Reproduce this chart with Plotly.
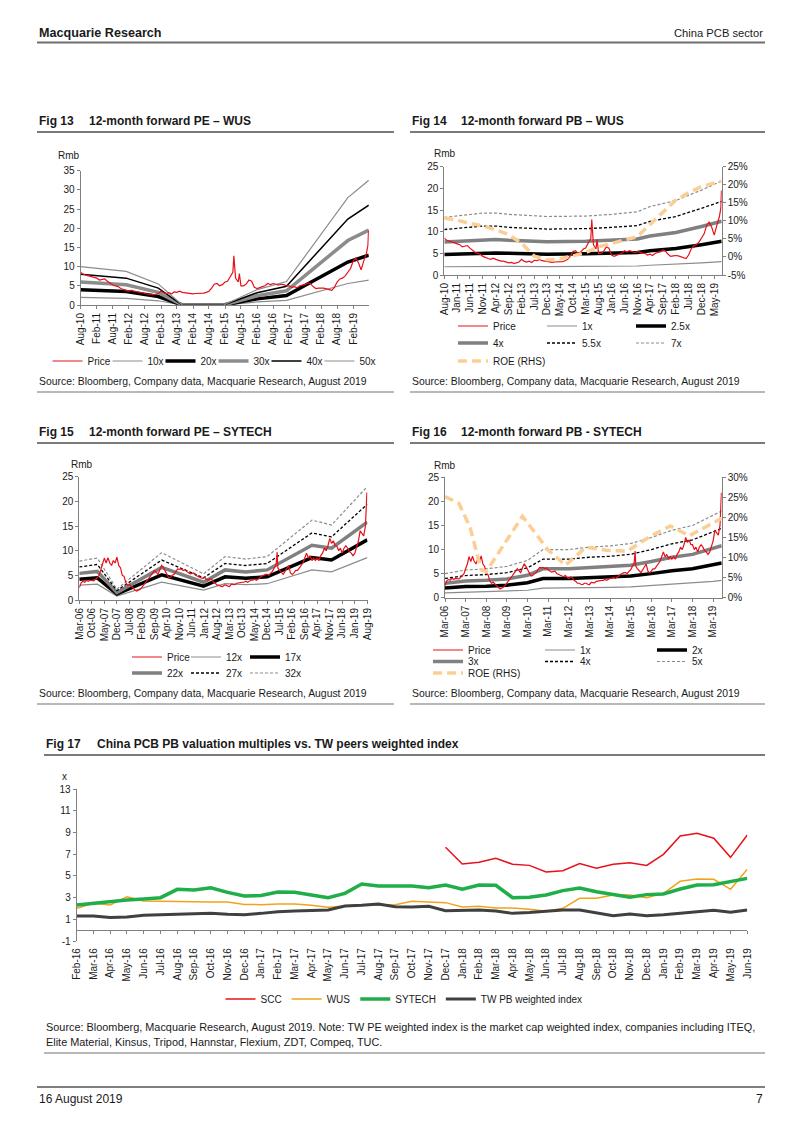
import plotly.graph_objects as go
import pandas as pd

FONT = "Liberation Sans, Arial, Helvetica, sans-serif"
TXT = "#1a1a1a"
AX = "#808080"
RED = "#e8101a"
GRAY = "#8c8c8c"
ROEC = "#fbcf94"
W, H = 802, 1133

# ------------------------------------------------------------------ data
# WUS share price (Rmb), monthly Aug-10 .. Jul-19, plus a few intra-month spikes
wus_price_start = "2010-08-01"
wus_price_monthly = [
    8.5, 8.0, 7.8, 7.5, 7.4,
    7.2, 7.0, 6.5, 6.6, 6.8, 6.2, 5.6, 5.2, 5.0, 4.8, 4.3, 4.0,
    3.8, 3.6, 3.9, 3.6, 3.4, 3.2, 3.2, 3.0, 2.8, 2.9, 2.7, 2.8,
    3.0, 3.6, 3.2, 3.0, 3.2, 2.9, 3.4, 3.3, 3.6, 3.3, 3.2, 3.0,
    3.0, 2.9, 3.0, 3.0, 3.1, 3.1, 3.3, 3.6, 4.4, 5.4, 5.6, 5.0,
    5.3, 6.0, 6.2, 7.5, 8.5, 7.0, 6.0, 5.0, 5.0, 5.5, 6.5, 6.2,
    4.6, 4.3, 4.6, 4.8, 5.0, 5.6, 5.3, 5.6, 5.4, 5.2, 5.4, 5.3,
    5.0, 5.0, 4.6, 4.8, 4.5, 5.0, 5.2, 5.3, 5.8, 5.5, 4.8, 4.3,
    4.4, 4.5, 4.4, 4.2, 4.0, 3.8, 4.6, 6.0, 6.8, 7.0, 7.6, 8.4,
    9.5, 11.5, 12.2, 11.0, 9.2, 11.5, 13.5,
]
wus_price_extra_dates = ["2015-05-12", "2015-07-14", "2019-07-18", "2019-07-25"]
wus_price_extra_vals = [12.8, 8.2, 15.5, 19.5]

# Fig 13: WUS PE bands (Rmb)
wus_pe_dates = ["2010-08-01", "2012-01-01", "2013-01-01", "2013-10-01", "2015-01-15",
                "2016-02-01", "2017-01-01", "2018-12-01", "2019-07-28"]
wus_pe_10x = [2.0, 1.75, 1.1, 0.0, 0.0, 0.8, 1.2, 5.6, 6.5]
wus_pe_20x = [4.0, 3.5, 2.2, 0.0, 0.0, 1.6, 2.45, 11.2, 13.0]
wus_pe_30x = [6.0, 5.25, 3.3, 0.0, 0.0, 2.4, 3.7, 16.8, 19.5]
wus_pe_40x = [8.0, 7.0, 4.4, 0.0, 0.0, 3.2, 4.9, 22.4, 26.0]
wus_pe_50x = [10.0, 8.75, 5.5, 0.0, 0.0, 4.0, 6.1, 28.0, 32.5]

# Fig 14: WUS PB bands (Rmb) and ROE (%)
wus_pb_dates = ["2010-08-01", "2011-11-01", "2012-04-01", "2012-09-01", "2013-12-01", "2015-03-01",
                "2016-01-01", "2016-11-01", "2017-04-01", "2018-02-01", "2018-12-01", "2019-07-28"]
wus_pb_1x = [1.9, 2.05, 2.05, 2.0, 1.93, 1.95, 2.0, 2.08, 2.25, 2.45, 2.8, 3.1]
wus_pb_2_5x = [4.75, 5.1, 5.1, 5.0, 4.8, 4.9, 5.0, 5.2, 5.6, 6.1, 7.0, 7.8]
wus_pb_4x = [7.6, 8.2, 8.2, 8.0, 7.7, 7.8, 8.0, 8.3, 9.0, 9.8, 11.2, 12.4]
wus_pb_5_5x = [10.5, 11.3, 11.3, 11.0, 10.6, 10.7, 11.0, 11.4, 12.4, 13.5, 15.4, 17.0]
wus_pb_7x = [13.3, 14.3, 14.3, 14.0, 13.5, 13.6, 14.0, 14.6, 15.8, 17.2, 19.6, 21.7]
wus_roe_dates = ["2010-08-01", "2011-01-01", "2011-06-01", "2011-11-01", "2012-04-01", "2012-09-01",
                 "2013-02-01", "2013-07-01", "2013-12-01", "2014-05-01", "2014-10-01", "2015-03-01",
                 "2015-08-01", "2016-01-01", "2016-06-01", "2016-11-01", "2017-04-01", "2017-09-01",
                 "2018-02-01", "2018-07-01", "2018-12-01", "2019-05-01", "2019-07-28"]
wus_roe = [10.8, 10.2, 9.3, 8.6, 7.5, 6.2, 3.8, 0.2, -0.8, -0.5, 0.3, 1.2,
           2.8, 3.8, 4.8, 5.6, 9.0, 12.5, 15.8, 17.8, 19.5, 20.5, 21.0]

# SYTECH share price (Rmb), monthly Mar-06 .. Jul-19, plus spikes
sy_price_start = "2006-03-01"
sy_price_monthly = [
    2.5, 3.5, 3.8, 3.6, 4.0, 3.8, 4.0, 4.0, 3.9, 4.2,
    4.5, 5.0, 6.0, 7.0, 8.5, 7.5, 8.6, 7.5, 7.0, 8.0, 7.5, 8.7,
    7.0, 6.5, 5.0, 4.8, 3.5, 3.0, 3.2, 2.8, 2.5, 2.0, 1.8, 2.0,
    2.2, 2.6, 3.0, 3.5, 4.0, 4.5, 5.0, 5.5, 6.0, 5.6, 5.2, 6.2,
    7.0, 6.5, 6.0, 5.2, 4.5, 4.6, 5.0, 5.2, 5.8, 6.3, 6.2, 6.3,
    6.0, 6.2, 5.8, 5.5, 5.3, 5.4, 5.5, 5.0, 4.8, 4.7, 4.5, 4.4,
    4.6, 4.2, 4.0, 4.3, 4.2, 3.6, 3.4, 3.0, 3.0, 2.8, 2.7, 3.0,
    3.0, 2.8, 2.7, 3.2, 3.2, 3.1, 3.4, 3.5, 3.6, 3.6, 3.6, 3.8,
    3.6, 3.8, 4.0, 4.0, 4.2, 4.0, 4.2, 4.5, 4.8, 5.0, 5.2, 5.2,
    5.0, 5.5, 5.8, 6.5, 7.0, 6.5, 6.0, 5.5, 5.2, 5.8, 6.5, 7.0,
    5.5, 5.2, 5.5, 6.0, 6.0, 6.5, 7.0, 7.5, 8.5, 9.5, 8.5, 9.0,
    8.0, 8.5, 8.0, 8.5, 8.0, 9.0, 9.5, 10.5, 10.0, 11.0, 12.5, 11.5,
    12.0, 11.0, 11.0, 10.0, 10.5, 9.5, 10.5, 11.0, 10.5, 9.8, 9.5, 9.0,
    9.5, 11.0, 11.8, 14.0, 13.5, 13.0, 15.0,
]
sy_price_extra_dates = ["2015-05-20", "2019-07-26"]
sy_price_extra_vals = [9.7, 21.8]

# Fig 15: SYTECH PE bands (Rmb)
sy_pe_dates = ["2006-03-01", "2007-01-01", "2007-12-01", "2010-01-01", "2011-12-15", "2012-12-15",
               "2013-12-01", "2014-12-01", "2017-01-01", "2017-12-01", "2019-08-01"]
sy_pe_12x = [3.0, 3.2, 0.8, 3.6, 2.0, 3.3, 3.1, 3.3, 6.1, 5.7, 8.6]
sy_pe_17x = [4.2, 4.5, 1.2, 5.1, 2.8, 4.7, 4.4, 4.7, 8.6, 8.1, 12.2]
sy_pe_22x = [5.4, 5.8, 1.5, 6.6, 3.6, 6.1, 5.7, 6.1, 11.1, 10.5, 15.8]
sy_pe_27x = [6.7, 7.2, 1.9, 8.1, 4.5, 7.4, 7.0, 7.4, 13.6, 12.8, 19.4]
sy_pe_32x = [7.9, 8.5, 2.2, 9.6, 5.3, 8.8, 8.3, 8.8, 16.2, 15.2, 23.0]

# Fig 16: SYTECH PB bands (Rmb) and ROE (%)
sy_pb_dates = ["2006-03-01", "2007-03-01", "2008-03-01", "2009-03-01", "2010-03-01", "2010-12-01",
               "2012-03-01", "2013-03-01", "2014-03-01", "2015-03-01", "2016-03-01", "2017-03-01",
               "2018-03-01", "2019-03-01", "2019-07-31"]
sy_pb_1x = [1.0, 1.15, 1.2, 1.3, 1.55, 2.0, 2.0, 2.1, 2.15, 2.25, 2.5, 2.8, 3.0, 3.4, 3.6]
sy_pb_2x = [2.0, 2.3, 2.4, 2.6, 3.1, 4.0, 4.0, 4.2, 4.3, 4.5, 5.0, 5.6, 6.0, 6.8, 7.2]
sy_pb_3x = [3.0, 3.45, 3.6, 3.9, 4.65, 6.0, 6.0, 6.3, 6.45, 6.75, 7.5, 8.4, 9.0, 10.2, 10.8]
sy_pb_4x = [4.0, 4.6, 4.8, 5.2, 6.2, 8.0, 8.0, 8.4, 8.6, 9.0, 10.0, 11.2, 12.0, 13.6, 14.4]
sy_pb_5x = [5.0, 5.75, 6.0, 6.5, 7.75, 10.0, 10.0, 10.5, 10.75, 11.25, 12.5, 14.0, 15.0, 17.0, 18.0]
sy_roe_dates = ["2006-03-01", "2006-11-01", "2007-05-15", "2007-12-01", "2008-03-01", "2009-12-01",
                "2011-03-01", "2012-01-01", "2013-01-01", "2014-01-01", "2015-01-01", "2016-02-01",
                "2017-02-01", "2018-01-01", "2019-07-31"]
sy_roe = [25.2, 23.5, 17.7, 7.0, 6.5, 20.3, 11.9, 8.1, 12.6, 11.8, 11.6, 15.2, 17.9, 15.4, 19.8]

# Fig 17: PB multiples (x)
f17_months = ["Feb-16", "Mar-16", "Apr-16", "May-16", "Jun-16", "Jul-16", "Aug-16", "Sep-16", "Oct-16",
              "Nov-16", "Dec-16", "Jan-17", "Feb-17", "Mar-17", "Apr-17", "May-17", "Jun-17", "Jul-17",
              "Aug-17", "Sep-17", "Oct-17", "Nov-17", "Dec-17", "Jan-18", "Feb-18", "Mar-18", "Apr-18",
              "May-18", "Jun-18", "Jul-18", "Aug-18", "Sep-18", "Oct-18", "Nov-18", "Dec-18", "Jan-19",
              "Feb-19", "Mar-19", "Apr-19", "May-19", "Jun-19"]
f17_scc = [None] * 22 + [7.65, 6.11, 6.26, 6.63, 6.08, 5.98, 5.37, 5.49, 6.14, 5.71, 6.08, 6.23,
                         5.98, 7.0, 8.69, 8.94, 8.48, 6.72, 8.78]
f17_wus = [2.02, 2.48, 2.32, 3.09, 2.69, 2.69, 2.69, 2.63, 2.6, 2.6, 2.38, 2.35, 2.42, 2.42, 2.29,
           2.11, 2.23, 2.32, 2.29, 2.35, 2.66, 2.57, 2.54, 2.14, 2.2, 2.05, 2.05, 1.92, 1.74, 2.02,
           2.94, 2.94, 3.25, 3.25, 3.0, 3.4, 4.51, 4.72, 4.69, 3.77, 5.62]
f17_sytech = [2.32, 2.48, 2.57, 2.78, 2.88, 3.0, 3.77, 3.71, 3.92, 3.49, 3.15, 3.2, 3.52, 3.49, 3.25,
              3.0, 3.4, 4.26, 4.08, 4.1, 4.08, 3.92, 4.17, 3.77, 4.17, 4.14, 3.0, 3.03, 3.25, 3.65,
              3.89, 3.55, 3.25, 3.03, 3.28, 3.34, 3.8, 4.17, 4.2, 4.45, 4.78]
f17_tw = [1.31, 1.31, 1.18, 1.22, 1.37, 1.43, 1.49, 1.52, 1.55, 1.46, 1.43, 1.55, 1.71, 1.77, 1.8,
          1.86, 2.23, 2.29, 2.42, 2.17, 2.14, 2.2, 1.8, 1.8, 1.86, 1.77, 1.55, 1.62, 1.77, 1.86,
          1.86, 1.62, 1.34, 1.49, 1.34, 1.43, 1.58, 1.74, 1.83, 1.65, 1.86]

f17_yticks = [-1, 1, 3, 5, 7, 9, 11, 13]
f14_rticks = [-5, 0, 5, 10, 15, 20, 25]
f16_rticks = [0, 5, 10, 15, 20, 25, 30]


# ------------------------------------------------------------------ helpers
def fx(px):
    return px / W


def fy(py):
    return 1 - py / H


def price_series(start, monthly, extra_d, extra_v):
    s = pd.Series(monthly, index=pd.date_range(start, periods=len(monthly), freq="MS"))
    e = pd.Series(extra_v, index=pd.to_datetime(extra_d))
    return pd.concat([s, e]).sort_index()


wus_price = price_series(wus_price_start, wus_price_monthly, wus_price_extra_dates, wus_price_extra_vals)
sy_price = price_series(sy_price_start, sy_price_monthly, sy_price_extra_dates, sy_price_extra_vals)

AXSTYLE = dict(showline=True, linecolor=AX, linewidth=1, ticks="outside", ticklen=3, tickwidth=1,
               tickcolor=AX, showgrid=False, zeroline=False, fixedrange=True,
               tickfont=dict(family=FONT, size=10, color=TXT))


def date_axis(x0, x1, rng, tick0, dtick, anchor):
    return dict(type="date", domain=[fx(x0), fx(x1)], range=rng, tick0=tick0, dtick=dtick,
                tickformat="%b-%y", tickangle=-90, anchor=anchor, **AXSTYLE)


def val_axis(ybot, ytop, rng, dtick, anchor, **kw):
    d = dict(domain=[fy(ybot), fy(ytop)], range=rng, dtick=dtick, tick0=0, anchor=anchor, **AXSTYLE)
    d.update(kw)
    return d


def legend_box(x, y, xanchor="left", entrywidth=None):
    d = dict(orientation="h", x=fx(x), y=fy(y), xanchor=xanchor, yanchor="middle",
             bgcolor="rgba(0,0,0,0)", borderwidth=0, itemwidth=30, traceorder="normal",
             font=dict(family=FONT, size=10, color=TXT), itemclick=False, itemdoubleclick=False)
    if entrywidth is not None:
        d["entrywidth"] = entrywidth
        d["entrywidthmode"] = "pixels"
    return d


fig = go.Figure()


def add_line(x, y, name, xa, ya, leg, rank, color, width, dash="solid", lw=None):
    tr = go.Scatter(x=x, y=y, name=name, mode="lines", xaxis=xa, yaxis=ya,
                    legend=leg, legendrank=rank, hoverinfo="skip",
                    line=dict(color=color, width=width, dash=dash))
    if lw is not None:
        tr.legendwidth = lw
    fig.add_trace(tr)


SDASH = "3px,2px"
LDASH = "9px,5px"

# ---------------- Fig 13
add_line(wus_pe_dates, wus_pe_10x, "10x", "x", "y", "legend", 2, GRAY, 1.2, lw=8)
add_line(wus_pe_dates, wus_pe_20x, "20x", "x", "y", "legend", 3, "#000000", 3.5, lw=8)
add_line(wus_pe_dates, wus_pe_30x, "30x", "x", "y", "legend", 4, GRAY, 3.5, lw=8)
add_line(wus_pe_dates, wus_pe_40x, "40x", "x", "y", "legend", 5, "#000000", 1.5, lw=8)
add_line(wus_pe_dates, wus_pe_50x, "50x", "x", "y", "legend", 6, GRAY, 1.2, lw=20)
add_line(wus_price.index, wus_price.values, "Price", "x", "y", "legend", 1, RED, 1.2, lw=15)

# ---------------- Fig 14
add_line(wus_pb_dates, wus_pb_1x, "1x", "x2", "y2", "legend2", 2, GRAY, 1.2)
add_line(wus_pb_dates, wus_pb_2_5x, "2.5x", "x2", "y2", "legend2", 3, "#000000", 3.5)
add_line(wus_pb_dates, wus_pb_4x, "4x", "x2", "y2", "legend3", 1, "#808080", 3.5)
add_line(wus_pb_dates, wus_pb_5_5x, "5.5x", "x2", "y2", "legend3", 2, "#000000", 1.3, SDASH)
add_line(wus_pb_dates, wus_pb_7x, "7x", "x2", "y2", "legend3", 3, GRAY, 1.2, SDASH)
add_line(wus_roe_dates, wus_roe, "ROE (RHS)", "x2", "y3", "legend4", 1, ROEC, 3.5, LDASH, lw=70)
add_line(wus_price.index, wus_price.values, "Price", "x2", "y2", "legend2", 1, RED, 1.2)

# ---------------- Fig 15
add_line(sy_pe_dates, sy_pe_12x, "12x", "x3", "y4", "legend5", 2, GRAY, 1.2)
add_line(sy_pe_dates, sy_pe_17x, "17x", "x3", "y4", "legend5", 3, "#000000", 3.5, lw=24)
add_line(sy_pe_dates, sy_pe_22x, "22x", "x3", "y4", "legend6", 1, "#808080", 3.5)
add_line(sy_pe_dates, sy_pe_27x, "27x", "x3", "y4", "legend6", 2, "#000000", 1.3, SDASH)
add_line(sy_pe_dates, sy_pe_32x, "32x", "x3", "y4", "legend6", 3, GRAY, 1.2, SDASH, lw=24)
add_line(sy_price.index, sy_price.values, "Price", "x3", "y4", "legend5", 1, RED, 1.2)

# ---------------- Fig 16
add_line(sy_pb_dates, sy_pb_1x, "1x", "x4", "y5", "legend7", 2, GRAY, 1.2)
add_line(sy_pb_dates, sy_pb_2x, "2x", "x4", "y5", "legend7", 3, "#000000", 3.5)
add_line(sy_pb_dates, sy_pb_3x, "3x", "x4", "y5", "legend8", 1, "#808080", 3.5)
add_line(sy_pb_dates, sy_pb_4x, "4x", "x4", "y5", "legend8", 2, "#000000", 1.3, SDASH)
add_line(sy_pb_dates, sy_pb_5x, "5x", "x4", "y5", "legend8", 3, GRAY, 1.2, SDASH)
add_line(sy_roe_dates, sy_roe, "ROE (RHS)", "x4", "y6", "legend9", 1, ROEC, 3.5, LDASH, lw=70)
add_line(sy_price.index, sy_price.values, "Price", "x4", "y5", "legend7", 1, RED, 1.2)

# ---------------- Fig 17
add_line(f17_months, f17_scc, "SCC", "x5", "y7", "legend10", 1, RED, 1.5)
add_line(f17_months, f17_wus, "WUS", "x5", "y7", "legend10", 2, "#f2a31c", 1.5)
add_line(f17_months, f17_sytech, "SYTECH", "x5", "y7", "legend10", 3, "#1fae48", 3.5)
add_line(f17_months, f17_tw, "TW PB weighted index", "x5", "y7", "legend10", 4, "#404040", 3)

# ------------------------------------------------------------------ axes
F17_TOP, F17_BOT = 789.3, 941.0
f17_zero_px = F17_BOT - (0 - (-1)) / 14 * (F17_BOT - F17_TOP)

layout = dict(
    width=W, height=H, paper_bgcolor="white", plot_bgcolor="rgba(0,0,0,0)",
    margin=dict(l=0, r=0, t=0, b=0, pad=0, autoexpand=False),
    font=dict(family=FONT, size=10, color=TXT), hovermode=False,
    xaxis=date_axis(80.7, 368.8, ["2010-08-01", "2019-07-28"], "2010-08-01", "M6", "y"),
    yaxis=val_axis(305, 170.7, [0, 35], 5, "x"),
    xaxis2=date_axis(444.3, 721.7, ["2010-08-01", "2019-07-28"], "2010-08-01", "M5", "y2"),
    yaxis2=val_axis(275, 166.7, [0, 25], 5, "x2"),
    yaxis3=dict(overlaying="y2", side="right", anchor="x2", range=[-5, 25],
                tickvals=f14_rticks, ticktext=[f"{v}%" for v in f14_rticks], **AXSTYLE),
    xaxis3=date_axis(79.3, 367.5, ["2006-03-01", "2019-08-05"], "2006-03-01", "M7", "y4"),
    yaxis4=val_axis(600, 476.7, [0, 25], 5, "x3"),
    xaxis4=date_axis(445, 721.7, ["2006-03-01", "2019-07-31"], "2006-03-01", "M12", "y5"),
    yaxis5=val_axis(597.7, 477.3, [0, 25], 5, "x4"),
    yaxis6=dict(overlaying="y5", side="right", anchor="x4", range=[0, 30],
                tickvals=f16_rticks, ticktext=[f"{v}%" for v in f16_rticks], **AXSTYLE),
    xaxis5=dict(type="category", domain=[fx(76.7), fx(747.3)], range=[0, 40], dtick=1,
                tickangle=-90, anchor="free", position=fy(f17_zero_px), ticklabelstandoff=10,
                **AXSTYLE),
    yaxis7=val_axis(F17_BOT, F17_TOP, [-1, 13], 2, "x5", tickvals=f17_yticks,
                    ticktext=[str(v) for v in f17_yticks]),
    legend=legend_box(216, 361, xanchor="center"),
    legend2=legend_box(453, 326, entrywidth=44),
    legend3=legend_box(453, 343, entrywidth=44),
    legend4=legend_box(453, 361, entrywidth=44),
    legend5=legend_box(127, 657, entrywidth=14),
    legend6=legend_box(127, 673, entrywidth=14),
    legend7=legend_box(428, 650, entrywidth=67),
    legend8=legend_box(428, 661.5, entrywidth=67),
    legend9=legend_box(428, 673, entrywidth=67),
    legend10=legend_box(404, 999, xanchor="center"),
)
fig.update_layout(**layout)

# ------------------------------------------------------------------ page text
def text(s, x, y, size=10, xanchor="left", color=TXT):
    fig.add_annotation(text=s, x=fx(x), y=fy(y), xref="paper", yref="paper", xanchor=xanchor,
                       yanchor="middle", showarrow=False, align="left",
                       font=dict(family=FONT, size=size, color=color))


def hline(x0, x1, y, color, width):
    fig.add_shape(type="line", xref="paper", yref="paper", x0=fx(x0), x1=fx(x1), y0=fy(y), y1=fy(y),
                  line=dict(color=color, width=width))


text("<b>Macquarie Research</b>", 37, 33, 12.6)
text("China PCB sector", 765, 33, 11.2, xanchor="right")
hline(37, 765, 42.5, "#6e6e6e", 2)

titles = [
    ("Fig 13", "12-month forward PE – WUS", 37, 87, 121),
    ("Fig 14", "12-month forward PB – WUS", 410, 459, 121),
    ("Fig 15", "12-month forward PE – SYTECH", 37, 87, 432),
    ("Fig 16", "12-month forward PB - SYTECH", 410, 459, 432),
    ("Fig 17", "China PCB PB valuation multiples vs. TW peers weighted index", 44, 95, 744),
]
for a, b, xa, xb, y in titles:
    text(f"<b>{a}</b>", xa, y, 12)
    text(f"<b>{b}</b>", xb, y, 12)

hline(37, 394, 132, "#7a7a7a", 2)
hline(410, 765, 132, "#7a7a7a", 2)
hline(37, 394, 443, "#7a7a7a", 2)
hline(410, 765, 443, "#7a7a7a", 2)
hline(44, 765, 755, "#7a7a7a", 2)

text("Rmb", 56, 155)
text("Rmb", 432, 153)
text("Rmb", 69, 464)
text("Rmb", 432, 465)
text("x", 60, 776)

src = "Source: Bloomberg, Company data, Macquarie Research, August 2019"
text(src, 37, 381, 10.4)
text(src, 410, 381, 10.4)
text(src, 37, 693, 10.4)
text(src, 410, 693, 10.4)
hline(37, 394, 392, "#a0a0a0", 1.5)
hline(410, 765, 392, "#a0a0a0", 1.5)
hline(37, 394, 704, "#a0a0a0", 1.5)
hline(410, 765, 704, "#a0a0a0", 1.5)

text("Source: Bloomberg, Macquarie Research, August 2019. Note: TW PE weighted index is the market "
     "cap weighted index, companies including ITEQ,", 44, 1027, 10.9)
text("Elite Material, Kinsus, Tripod, Hannstar, Flexium, ZDT, Compeq, TUC.", 44, 1042, 10.9)
hline(44, 765, 1053, "#a0a0a0", 1.5)

hline(37, 765, 1087, "#000000", 1.2)
text("16 August 2019", 37, 1099, 12)
text("7", 765, 1099, 12, xanchor="right")

fig.write_html("out.html", config=dict(displayModeBar=False))
